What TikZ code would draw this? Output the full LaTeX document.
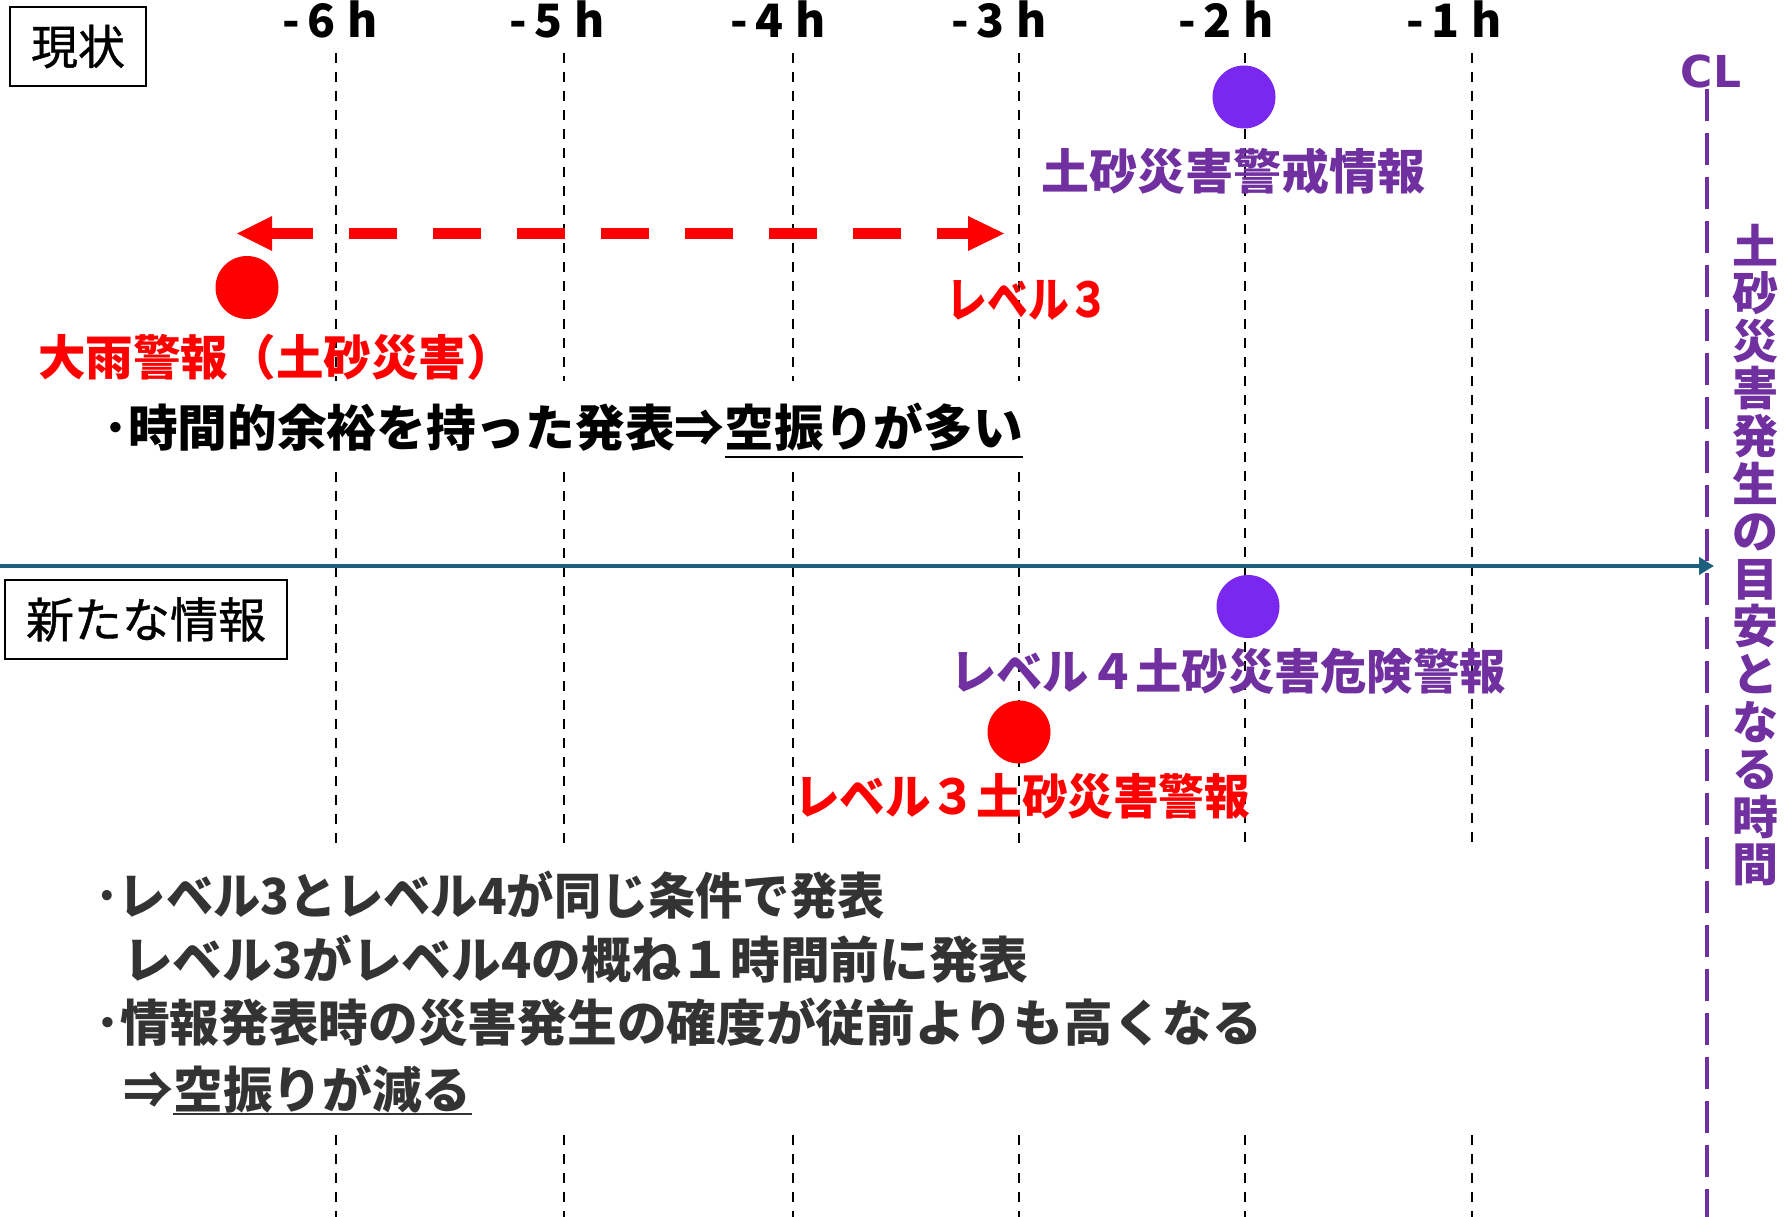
\documentclass[tikz,border=0pt]{standalone}
\usepackage{fontspec}
\usepackage{graphicx}
\newfontfamily\jp{Noto Sans CJK JP}
\newfontfamily\jpm{Noto Sans CJK JP}[FakeBold=0.8]
\newfontfamily\dvb{DejaVu Sans}
\usetikzlibrary{arrows.meta}
\definecolor{redc}{RGB}{255,0,0}
\definecolor{purpT}{RGB}{112,48,160}
\definecolor{purpC}{RGB}{122,40,240}
\definecolor{axisc}{RGB}{30,95,125}
\definecolor{grayt}{RGB}{51,51,51}
\newcommand\jfs[1]{\fontsize{#1}{#1}\selectfont}
\tikzset{
  gridln/.style={line width=2.5pt, dash pattern=on 10pt off 9pt, black},
  dot/.style={circle, inner sep=0pt, minimum size=63pt, draw=none},
  tbox/.style={draw, line width=2pt, inner sep=0pt, minimum height=79pt, font=\jpm\jfs{47}},
  hlbl/.style={anchor=base, inner sep=0pt, font=\jp\bfseries\jfs{46}},
  bigtxt/.style={inner sep=0pt, font=\jp\bfseries\jfs{48}},
  stmt/.style={inner sep=0pt, font=\jp\bfseries\jfs{49.7}, anchor=base west},
  axisln/.style={line width=4pt, axisc},
  clln/.style={line width=4.5pt, purpT, dash pattern=on 32pt off 12pt},
  redarr/.style={line width=11.7pt, redc, dash pattern=on 48pt off 36pt, dash phase=7pt},
}
\newcommand\hl[1]{-\kern7pt#1\kern12pt h}
\begin{document}
\begin{tikzpicture}[x=1pt,y=-1pt]
\useasboundingbox (0,0) rectangle (1787,1217);
% grid lines
\foreach \x/\n in {336/6,564/5,793/4,1019/3}{
  \coordinate (g\n a) at (\x,53);  \coordinate (g\n b) at (\x,381);
  \coordinate (g\n c) at (\x,472); \coordinate (g\n d) at (\x,849);
  \coordinate (g\n e) at (\x,1135); \coordinate (g\n f) at (\x,1217);
  \draw[gridln] (g\n a) -- (g\n b);
  \draw[gridln] (g\n c) -- (g\n d);
  \draw[gridln] (g\n e) -- (g\n f);
}
\foreach \x/\n in {1245/2,1472/1}{
  \coordinate (g\n a) at (\x,53);  \coordinate (g\n d) at (\x,849);
  \coordinate (g\n e) at (\x,1135); \coordinate (g\n f) at (\x,1217);
  \draw[gridln] (g\n a) -- (g\n d);
  \draw[gridln] (g\n e) -- (g\n f);
}
% hour labels
\node[hlbl] (h6) at (330,38) {\hl{6}};
\node[hlbl] (h5) at (557,38) {\hl{5}};
\node[hlbl] (h4) at (778,38) {\hl{4}};
\node[hlbl] (h3) at (999,38) {\hl{3}};
\node[hlbl] (h2) at (1226,38) {\hl{2}};
\node[hlbl] (h1) at (1454,38) {\hl{1}};
% CL line
\node[inner sep=0pt, font=\dvb\bfseries\jfs{44}, text=purpT] (cl) at (1711,71) {CL};
\coordinate (clT) at (1707,89);
\coordinate (clB) at (1707,1217);
\draw[clln] (clT) -- (clB);
% axis
\coordinate (axL) at (0,566);
\coordinate (axR) at (1714,566);
\draw[axisln, -{Triangle[length=15pt,width=17pt]}] (axL) -- (axR);
% red double arrow
\coordinate (arL) at (237,233.5);
\coordinate (arR) at (1004,233.5);
\coordinate (arLb) at (272,233.5);
\coordinate (arRb) at (968,233.5);
\draw[redarr] (arLb) -- (arRb);
\fill[redc] (arL) -- ([yshift=17.5pt]arLb) -- ([yshift=-17.5pt]arLb) -- cycle;
\fill[redc] (arR) -- ([yshift=17.5pt]arRb) -- ([yshift=-17.5pt]arRb) -- cycle;
% boxes
\node[tbox, minimum width=136pt] (genjo) at (78,46.5) {現状};
\node[tbox, minimum width=282pt, font=\jpm\jfs{48}] (arata) at (146,619.5) {新たな情報};
% dots
\node[dot, fill=redc] (d1) at (247,287.5) {};
\node[dot, fill=purpC] (d2) at (1244,97) {};
\node[dot, fill=purpC] (d3) at (1248,606.5) {};
\node[dot, fill=redc] (d4) at (1019,732) {};
% labels
\node[bigtxt, text=purpT] (t1) at (1233,171) {土砂災害警戒情報};
\node[bigtxt, text=redc] (t2) at (276,357) {\scalebox{0.99}[1]{大雨警報（土砂災害）}};
\node[bigtxt, text=redc] (t3) at (1028,300) {\scalebox{0.85}[1]{レベル３}};
\node[bigtxt, text=purpT] (t4) at (1228,671) {\scalebox{0.965}[1]{レベル４土砂災害危険警報}};
\node[bigtxt, text=redc] (t5) at (1022,796) {\scalebox{0.95}[1]{レベル３土砂災害警報}};
% vertical text
\node[inner sep=0pt, align=center, text=purpT, font=\jp\bfseries\fontsize{46}{47.6}\selectfont] (vt) at (1755,555)
 {土\\砂\\災\\害\\発\\生\\の\\目\\安\\と\\な\\る\\時\\間};
% top statement
\node[stmt] (s1) at (103,446) {･時間的余裕を持った発表⇒};
\node[stmt] (s1u) at (s1.base east) {空振りが多い};
\draw[line width=2.5pt] ([yshift=-11pt]s1u.base west) -- ([yshift=-11pt]s1u.base east);
% bottom statements
\node[stmt, text=grayt] (b1) at (95,914) {\scalebox{0.95}[1]{･レベル3とレベル4が同じ条件で発表}};
\node[stmt, text=grayt] (b2) at (123,978) {レベル3がレベル4の概ね１時間前に発表};
\node[stmt, text=grayt] (b3) at (95,1041) {･情報発表時の災害発生の確度が従前よりも高くなる};
\node[stmt, text=grayt] (b4) at (123,1108) {⇒};
\node[stmt, text=grayt] (b4u) at (b4.base east) {空振りが減る};
\draw[line width=2.5pt, grayt] ([yshift=-6pt]b4u.base west) -- ([yshift=-6pt]b4u.base east);
\end{tikzpicture}
\end{document}
